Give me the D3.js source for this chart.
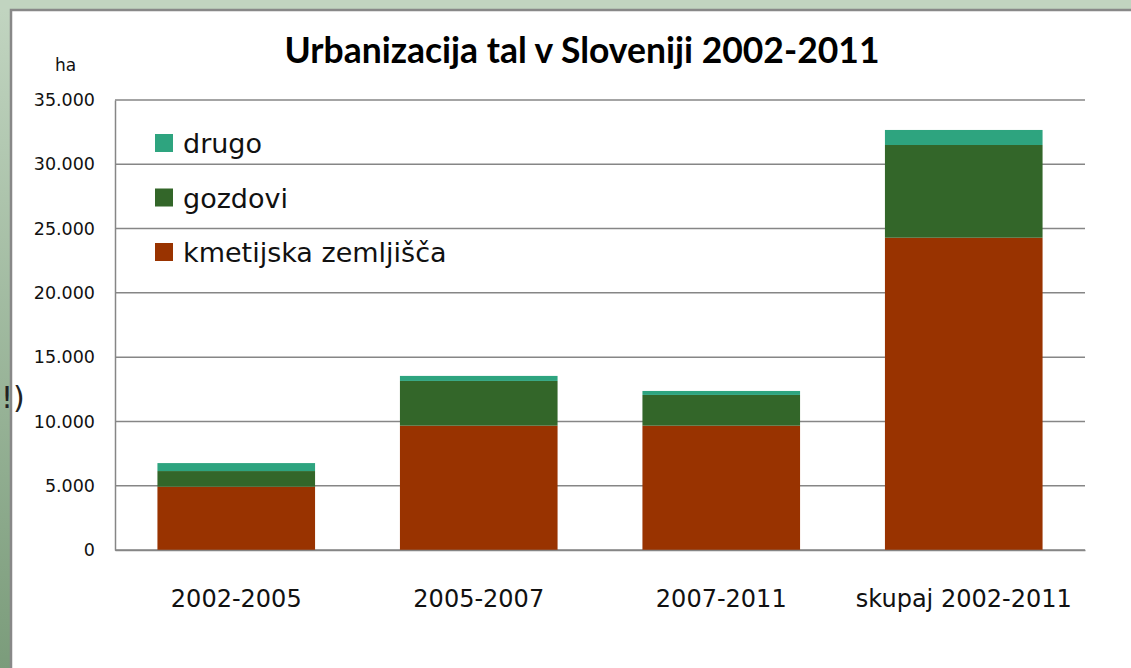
<!DOCTYPE html>
<html>
<head>
<meta charset="utf-8">
<script src="https://cdn.jsdelivr.net/npm/d3@7"></script>
<style>
  body { margin: 0; overflow: hidden; background: #fff; }
  svg { display: block; }
</style>
</head>
<body>
<script>
var categories = ["2002-2005", "2005-2007", "2007-2011", "skupaj 2002-2011"];
var seriesNames = ["kmetijska zemljišča", "gozdovi", "drugo"];
var kmetijska = [4920, 9670, 9670, 24290];
var gozdovi = [1220, 3480, 2390, 7210];
var drugo = [620, 390, 310, 1170];
var yTicks = [0, 5000, 10000, 15000, 20000, 25000, 30000, 35000];

var width = 1131;
var height = 668;
var colors = ["#993300", "#336629", "#2ea47f"];

var svg = d3.select("body").append("svg")
    .attr("width", width)
    .attr("height", height);

// slide background + panel frame
var defs = svg.append("defs");
var grad = defs.append("linearGradient")
    .attr("id", "bg").attr("x1", 0).attr("y1", 0).attr("x2", 0).attr("y2", 1);
grad.append("stop").attr("offset", "0%").attr("stop-color", "#c2d5c1");
grad.append("stop").attr("offset", "100%").attr("stop-color", "#7b9c7b");

svg.append("rect").attr("width", width).attr("height", height).attr("fill", "url(#bg)");
svg.append("rect").attr("x", 0).attr("y", 0).attr("width", width).attr("height", 9).attr("fill", "#c1d4c0");
svg.append("rect")
    .attr("x", 11).attr("y", 10)
    .attr("width", width + 20).attr("height", height + 20)
    .attr("fill", "#fff")
    .attr("stroke", "#888").attr("stroke-width", 2.5);

// leftover text from the slide behind the chart
svg.append("text")
    .attr("x", 1).attr("y", 408)
    .style("font-family", "DejaVu Sans")
    .style("font-size", "30px")
    .attr("fill", "#222")
    .text("!)");

var margin = { left: 115, right: 1085, top: 100, bottom: 550 };

var x = d3.scaleBand()
    .domain(categories)
    .range([margin.left, margin.right])
    .paddingInner(0.35)
    .paddingOuter(0.175);

var y = d3.scaleLinear()
    .domain([0, 35000])
    .range([margin.bottom, margin.top]);

var locale = d3.formatLocale({ decimal: ",", thousands: ".", grouping: [3], currency: ["", ""] });
var fmt = locale.format(",");

// gridlines
svg.append("g").selectAll("line")
    .data(yTicks)
    .enter().append("line")
    .attr("x1", margin.left).attr("x2", margin.right)
    .attr("y1", function(d) { return y(d); })
    .attr("y2", function(d) { return y(d); })
    .attr("stroke", "#868686")
    .attr("stroke-width", 1.5);

// y axis
var yAxis = d3.axisLeft(y)
    .tickValues(yTicks)
    .tickFormat(fmt)
    .tickSize(0)
    .tickPadding(20);

var gy = svg.append("g")
    .attr("transform", "translate(" + margin.left + ",0)")
    .call(yAxis);
gy.select(".domain").attr("stroke", "#868686").attr("stroke-width", 1.5);
gy.selectAll("text")
    .style("font-family", "DejaVu Sans")
    .style("font-size", "17.5px")
    .attr("fill", "#111");

// stacked bars
var table = categories.map(function(c, i) {
    return { cat: c, "kmetijska zemljišča": kmetijska[i], "gozdovi": gozdovi[i], "drugo": drugo[i] };
});
var stack = d3.stack().keys(seriesNames)(table);

svg.append("g").selectAll("g")
    .data(stack)
    .enter().append("g")
    .attr("fill", function(d, i) { return colors[i]; })
    .selectAll("rect")
    .data(function(d) { return d; })
    .enter().append("rect")
    .attr("x", function(d) { return x(d.data.cat); })
    .attr("width", x.bandwidth())
    .attr("y", function(d) { return y(d[1]); })
    .attr("height", function(d) { return y(d[0]) - y(d[1]); });

// x axis
var xAxis = d3.axisBottom(x).tickSize(0).tickPadding(40);
var gx = svg.append("g")
    .attr("transform", "translate(0," + margin.bottom + ")")
    .call(xAxis);
gx.select(".domain").attr("stroke", "#868686").attr("stroke-width", 1.5);
gx.selectAll("text")
    .style("font-family", "DejaVu Sans")
    .style("font-size", "24px")
    .attr("fill", "#111");

// title
svg.append("text")
    .attr("x", 582).attr("y", 63)
    .attr("text-anchor", "middle")
    .attr("textLength", 595)
    .attr("lengthAdjust", "spacingAndGlyphs")
    .style("font-family", "Lato")
    .style("font-weight", "bold")
    .style("font-size", "36px")
    .attr("fill", "#000")
    .text("Urbanizacija tal v Sloveniji 2002-2011");

// unit label
svg.append("text")
    .attr("x", 55).attr("y", 71)
    .style("font-family", "DejaVu Sans")
    .style("font-size", "17px")
    .attr("fill", "#111")
    .text("ha");

// legend (top item first)
var legendOrder = [2, 1, 0];
var legend = svg.selectAll(".legend")
    .data(legendOrder)
    .enter().append("g")
    .attr("class", "legend")
    .attr("transform", function(d, i) {
        return "translate(155," + (143 + i * 54.5) + ")";
    });

legend.append("rect")
    .attr("x", 0).attr("y", -9)
    .attr("width", 18).attr("height", 18)
    .attr("fill", function(d) { return colors[d]; });

legend.append("text")
    .attr("x", 28).attr("y", 10)
    .style("font-family", "DejaVu Sans")
    .style("font-size", "27px")
    .attr("fill", "#111")
    .text(function(d) { return seriesNames[d]; });
</script>
</body>
</html>
